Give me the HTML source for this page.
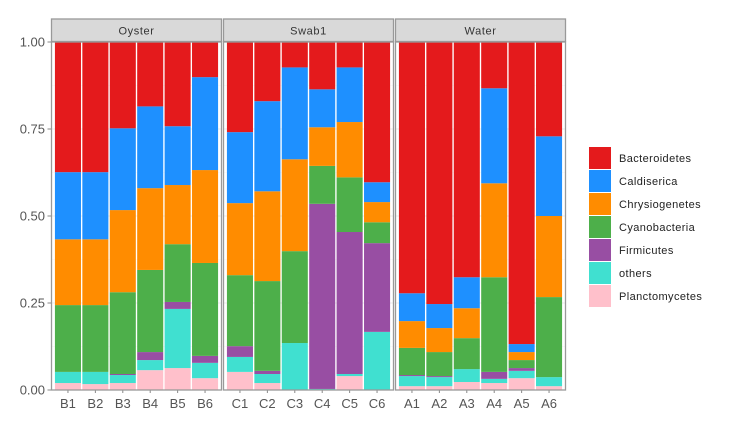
<!DOCTYPE html>
<html><head><meta charset="utf-8"><style>
body{margin:0;background:#fff;font-family:"Liberation Sans",sans-serif}
svg{display:block}
</style></head><body>
<svg id="chart" width="732" height="429" xmlns="http://www.w3.org/2000/svg"></svg>
<script>
const panels = ["Oyster","Swab1","Water"];
const samples = [["B1","B2","B3","B4","B5","B6"],["C1","C2","C3","C4","C5","C6"],["A1","A2","A3","A4","A5","A6"]];
const taxa = ["Bacteroidetes","Caldiserica","Chrysiogenetes","Cyanobacteria","Firmicutes","others","Planctomycetes"];
const colors = ["#E41A1C","#1E90FF","#FF8C00","#4DAF4A","#984EA3","#40E0D0","#FFC0CB"];
// stacked bottom->top order: Planctomycetes, others, Firmicutes, Cyanobacteria, Chrysiogenetes, Caldiserica, Bacteroidetes
const planctomycetes = [.020,.017,.020,.057,.063,.034, .052,.020,0,0,.040,0, .011,.011,.023,.020,.034,.011];
const others =        [.032,.035,.023,.029,.170,.044, .043,.026,.135,.003,.006,.167, .029,.026,.037,.012,.021,.026];
const firmicutes =    [0,0,.003,.023,.020,.020, .031,.009,0,.532,.408,.255, .003,.003,0,.020,.008,0];
const cyanobacteria = [.192,.192,.235,.236,.166,.267, .204,.258,.264,.109,.157,.060, .078,.069,.089,.272,.023,.230];
const chrysiogenetes= [.189,.189,.236,.235,.170,.267, .207,.258,.264,.111,.159,.058, .077,.069,.086,.270,.023,.233];
const caldiserica =   [.193,.193,.235,.235,.169,.267, .204,.259,.264,.109,.157,.057, .080,.069,.089,.273,.023,.229];
const bacteroidetes = [.374,.374,.248,.185,.242,.101, .259,.170,.073,.136,.073,.403, .722,.753,.676,.133,.868,.271];
const yTicks = [0,0.25,0.5,0.75,1.0];
const yTickLabels = ["0.00","0.25","0.50","0.75","1.00"];

const svg = document.getElementById('chart');
const NS = "http://www.w3.org/2000/svg";
function mk(tag, attrs, parent){const e=document.createElementNS(NS,tag);for(const k in attrs)e.setAttribute(k,attrs[k]);(parent||svg).appendChild(e);return e;}
const panelX = [51.5,223.5,395.5], panelW = 170;
const yTop = 42, yBot = 390;
const yScale = v => yBot - v*(yBot-yTop);
const xScale = (p,i) => panelX[p] + (i+1-0.4)*panelW/6.2;
const stack = [planctomycetes,others,firmicutes,cyanobacteria,chrysiogenetes,caldiserica,bacteroidetes];
const stackColors = ["#FFC0CB","#40E0D0","#984EA3","#4DAF4A","#FF8C00","#1E90FF","#E41A1C"];
const stackNames = ["planctomycetes","others","firmicutes","cyanobacteria","chrysiogenetes","caldiserica","bacteroidetes"];

panels.forEach((pn,p)=>{
  const g = mk('g',{});
  
  
  mk('rect',{x:panelX[p],y:yTop,width:panelW,height:yBot-yTop,fill:'#fff'},g);
  yTicks.forEach(t=>{mk('line',{x1:panelX[p],x2:panelX[p]+panelW,y1:yScale(t),y2:yScale(t),stroke:'#ebebeb','stroke-width':1},g);});
  [0.125,0.375,0.625,0.875].forEach(t=>{mk('line',{x1:panelX[p],x2:panelX[p]+panelW,y1:yScale(t),y2:yScale(t),stroke:'#f4f4f4','stroke-width':0.5},g);});
  samples[p].forEach((s,i)=>{
    const idx = p*6+i; let cum=0;
    const cx = xScale(p,i), bw = 0.95*panelW/6.2;
    stack.forEach((arr,k)=>{
      const v = arr[idx]; if(v<=0) return;
      const r = mk('rect',{x:cx-bw/2,y:yScale(cum+v),width:bw,height:yScale(cum)-yScale(cum+v),fill:stackColors[k]},g);
      
      
      cum+=v;
    });
    mk('line',{x1:cx,x2:cx,y1:yBot,y2:yBot+3,stroke:'#888'},g);
    const t = mk('text',{x:cx,y:yBot+18,'text-anchor':'middle','font-size':13,fill:'#555'},g);
    t.textContent = s;
    
    
  });
  mk('rect',{x:panelX[p],y:yTop,width:panelW,height:yBot-yTop,fill:'none',stroke:'#999','stroke-width':1.3},g);
  const st = mk('rect',{x:panelX[p],y:19,width:panelW,height:22.5,fill:'#d9d9d9',stroke:'#999','stroke-width':1.3},g);
  
  
  const stt = mk('text',{x:panelX[p]+panelW/2,y:34.5,'text-anchor':'middle','font-size':11,fill:'#333','letter-spacing':'0.6'},g);
  stt.textContent = pn;
  
  
});
yTicks.forEach((t,i)=>{
  mk('line',{x1:47.5,x2:51,y1:yScale(t),y2:yScale(t),stroke:'#888'});
  const tx = mk('text',{x:45,y:yScale(t)+4.5,'text-anchor':'end','font-size':13,fill:'#555'});
  tx.textContent = yTickLabels[i];
  
  
});
const lg = mk('g',{});


taxa.forEach((n,i)=>{
  const y = 147 + i*23;
  const e = mk('g',{},lg);
  
  
  mk('rect',{x:589,y:y,width:22,height:22,fill:colors[i]},e);
  const t = mk('text',{x:619,y:y+15,'font-size':11,fill:'#222','letter-spacing':'0.4'},e);
  t.textContent = n;
});
</script>
</body></html>
